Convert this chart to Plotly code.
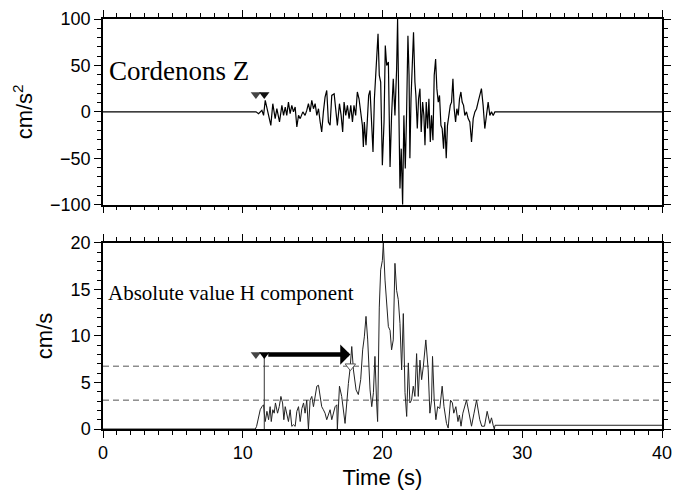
import plotly.graph_objects as go

# ---------------- data ----------------
# Vertical acceleration, Cordenons Z (cm/s^2)
acc_t = [0, 10.95, 11.13, 11.37, 11.49, 11.61, 11.85, 12.01, 12.15, 12.32, 12.44, 12.63, 12.80, 12.92,
         13.04, 13.15, 13.27, 13.39, 13.51, 13.63, 13.75, 13.87, 13.99, 14.11, 14.30, 14.46, 14.58,
         14.70, 14.82, 14.94, 15.06, 15.18, 15.30, 15.42, 15.54, 15.65, 15.77, 15.89, 16.01, 16.13,
         16.25, 16.37, 16.54, 16.68, 16.77, 16.92, 17.04, 17.15, 17.25, 17.37, 17.49, 17.61, 17.73,
         17.85, 17.96, 18.08, 18.20, 18.32, 18.44, 18.56, 18.63, 18.70, 18.82, 18.92, 19.01, 19.11,
         19.20, 19.32, 19.42, 19.51, 19.61, 19.68, 19.77, 19.87, 19.99, 20.11, 20.20, 20.30, 20.42,
         20.54, 20.65, 20.77, 20.89, 21.01, 21.08, 21.15, 21.25, 21.34, 21.44, 21.53, 21.63, 21.72,
         21.82, 21.90, 21.96, 22.04, 22.13, 22.22, 22.32, 22.39, 22.49, 22.58, 22.68, 22.77, 22.87,
         22.96, 23.04, 23.13, 23.23, 23.32, 23.42, 23.51, 23.61, 23.70, 23.80, 23.89, 23.99, 24.08,
         24.18, 24.27, 24.37, 24.46, 24.56, 24.65, 24.75, 24.85, 24.94, 25.04, 25.13, 25.23, 25.32,
         25.42, 25.51, 25.61, 25.70, 25.80, 25.89, 26.01, 26.13, 26.25, 26.37, 26.49, 26.61, 26.73,
         26.84, 26.96, 27.08, 27.20, 27.32, 27.44, 27.56, 27.68, 27.80, 27.92, 28.04, 28.2, 40]
acc_v = [0, 0, -1.9, 1.6, -3.8, 12.4, -3.8, -14.5, 8.8, -7.3, 3.4, -10.9, 7.0, -3.8,
         5.2, -3.8, 10.5, -1.9, 7.0, 0.0, 5.2, -16.3, -3.8, -7.3, 0.0, -3.8, 1.6,
         8.8, 0.0, 12.4, 3.4, 8.8, -3.8, 3.4, -10.9, -21.7, 0.0, 15.9, 23.1, -10.9,
         -14.5, 17.7, 19.5, -3.8, -14.5, 8.8, -3.8, -21.7, 10.5, -3.8, 7.0, -7.3, 7.0,
         -10.9, 7.0, -3.8, 21.4, 14.1, 0.0, -14.5, -37.8, -10.9, -36.0, -3.8, 17.7, 23.1,
         -3.8, -43.2, 14.1, 35.7, 57.0, 84.0, 39.3, 32.1, -57.5, -10.9, 71.5, 50.0, 53.6,
         -59.3, -3.8, 35.7, -3.8, 46.0, 100.0, 32.1, -82.6, -39.6, -100.0, -3.8, -61.0, -3.8,
         82.0, 40.0, -50.0, 14.0, 46.0, 85.8, 32.1, 17.7, -18.0, 14.1, 25.0, -21.7, 10.5,
         -3.8, -36.0, 10.5, -18.0, 14.1, -32.4, -3.8, -30.6, 39.3, 57.0, 25.0, 10.5, 17.7,
         -14.5, -18.0, -39.6, -10.9, -50.0, -14.5, -3.8, 7.0, 10.5, 35.7, 3.4, -10.9, 3.4,
         -3.8, 14.1, 21.4, 10.5, 7.0, -3.8, 0.0, -7.3, -10.9, -32.4, -7.3, 0.0, 3.4,
         10.5, 17.7, 25.0, 7.0, -18.0, -3.8, 10.5, -3.8, 0.0, -3.8, 0.0, 0, 0]

# Absolute value of the horizontal component (cm/s)
abs_t = [0, 10.9, 10.99, 11.13, 11.25, 11.37, 11.49, 11.54, 11.61, 11.73, 11.85, 11.96, 12.04, 12.15,
         12.25, 12.34, 12.49, 12.61, 12.73, 12.85, 12.94, 13.04, 13.15, 13.27, 13.39, 13.51, 13.63,
         13.75, 13.87, 13.99, 14.11, 14.23, 14.35, 14.46, 14.58, 14.70, 14.82, 14.94, 15.06, 15.18,
         15.30, 15.42, 15.54, 15.65, 15.77, 15.89, 16.01, 16.13, 16.25, 16.37, 16.49, 16.61, 16.73,
         16.77, 16.92, 17.08, 17.32, 17.44, 17.56, 17.68, 17.80, 17.92, 18.11, 18.27, 18.44, 18.58,
         18.70, 18.82, 18.94, 19.11, 19.23, 19.35, 19.46, 19.58, 19.65, 19.77, 19.87, 19.99, 20.06,
         20.18, 20.30, 20.42, 20.54, 20.65, 20.77, 20.89, 21.01, 21.13, 21.25, 21.37, 21.49, 21.61,
         21.73, 21.85, 21.96, 22.08, 22.20, 22.32, 22.44, 22.56, 22.68, 22.80, 22.92, 23.10, 23.27,
         23.39, 23.51, 23.58, 23.70, 23.82, 23.95, 24.10, 24.27, 24.40, 24.58, 24.70, 24.87, 25.00,
         25.10, 25.25, 25.40, 25.50, 25.62, 25.75, 26.01, 26.25, 26.37, 26.55, 26.73, 26.96, 27.10,
         27.30, 27.49, 27.68, 27.80, 27.92, 28.0, 28.05, 40]
abs_v = [0, 0, 0.28, 1.35, 2.07, 2.4, 2.6, 1.7, 0.8, 1.9, 1.0, 2.4, 0.8, 2.07,
         1.7, 2.8, 1.7, 2.4, 3.5, 2.8, 1.0, 2.4, 1.7, 0.8, 2.07, 0.28, 0.46,
         0.28, 1.9, 2.4, 0.8, 2.2, 2.8, 1.7, 3.1, 0.0, 3.1, 3.5, 2.4, 3.5,
         4.6, 4.7, 3.5, 2.4, 2.07, 1.7, 1.0, 1.5, 2.07, 1.0, 1.7, 2.4, 2.6,
         0.0, 4.6, 3.5, 0.6, 3.1, 4.9, 6.5, 8.86, 6.35, 4.2, 3.7, 5.3, 8.5,
         9.9, 12.1, 9.57, 4.2, 2.4, 3.9, 7.8, 2.8, 0.8, 13.1, 17.1, 18.1, 20.0,
         16.0, 13.1, 11.0, 10.6, 8.5, 9.57, 17.8, 14.9, 13.9, 11.35, 6.35, 12.4, 3.9,
         1.35, 7.1, 2.8, 3.1, 4.6, 3.5, 8.1, 3.5, 7.4, 5.3, 6.7, 9.57, 6.35,
         1.7, 3.1, 7.8, 3.1, 1.0, 2.4, 2.2, 4.6, 2.4, 0.6, 0.1, 3.1, 2.8,
         1.7, 2.4, 0.8, 1.5, 0.3, 1.7, 3.1, 1.0, 0.3, 1.7, 3.1, 1.0, 0.3,
         0.3, 1.9, 0.6, 1.2, 0.4, 0.0, 0.4, 0.4]

pick_times = [10.94, 11.54]          # onset picks (s)
pick_level_acc = 18.8                # marker height, top panel
pick_level_abs = 8.0                 # marker height, bottom panel
arrival_time = 17.7                  # threshold exceedance time (s)
thresholds = [3.1, 6.75]             # dashed threshold levels (cm/s)

x_ticks = [0, 10, 20, 30, 40]

# ---------------- figure ----------------
fig = go.Figure()

fig.add_trace(go.Scatter(x=acc_t, y=acc_v, mode="lines",
                         line=dict(color="black", width=1.2), xaxis="x", yaxis="y",
                         showlegend=False, hoverinfo="skip"))

fig.add_trace(go.Scatter(x=abs_t, y=abs_v, mode="lines",
                         line=dict(color="#222", width=1), xaxis="x2", yaxis="y2",
                         showlegend=False, hoverinfo="skip"))

# pick line in bottom panel
fig.add_trace(go.Scatter(x=[pick_times[1], pick_times[1]], y=[pick_level_abs, 0], mode="lines",
                         line=dict(color="#333", width=1), xaxis="x2", yaxis="y2",
                         showlegend=False, hoverinfo="skip"))

# pick markers
fig.add_trace(go.Scatter(x=pick_times, y=[pick_level_acc] * 2, mode="markers",
                         marker=dict(symbol="triangle-down", size=9, color=["#444", "#111"]),
                         xaxis="x", yaxis="y", showlegend=False, hoverinfo="skip"))
fig.add_trace(go.Scatter(x=pick_times, y=[pick_level_abs] * 2, mode="markers",
                         marker=dict(symbol="triangle-down", size=9, color=["#444", "#000"]),
                         xaxis="x2", yaxis="y2", showlegend=False, hoverinfo="skip"))
fig.add_trace(go.Scatter(x=[arrival_time], y=[thresholds[1]], mode="markers",
                         marker=dict(symbol="triangle-down", size=9, color="white",
                                     line=dict(color="#555", width=1)),
                         xaxis="x2", yaxis="y2", showlegend=False, hoverinfo="skip"))

for th in thresholds:
    fig.add_shape(type="line", xref="x2", yref="y2", x0=0, x1=40, y0=th, y1=th,
                  line=dict(color="#555", width=1, dash="6px,4px"), layer="below")

fig.add_annotation(x=arrival_time, y=pick_level_abs, ax=pick_times[1], ay=pick_level_abs,
                   xref="x2", yref="y2", axref="x2", ayref="y2", text=" ", showarrow=True,
                   arrowhead=1, arrowsize=0.75, arrowwidth=4.5, arrowcolor="black")

fig.add_annotation(x=0.3, y=44, xref="x", yref="y", text="Cordenons Z", showarrow=False,
                   xanchor="left", yanchor="middle",
                   font=dict(family="Liberation Serif, Times New Roman, serif", size=27, color="black"))
fig.add_annotation(x=0.2, y=14.6, xref="x2", yref="y2", text="Absolute value H component",
                   showarrow=False, xanchor="left", yanchor="middle",
                   font=dict(family="Liberation Serif, Times New Roman, serif", size=21, color="black"))

axis_common = dict(showline=True, linewidth=1.5, linecolor="black", mirror="ticks",
                   ticks="outside", ticklen=7, tickwidth=1.2, tickcolor="black",
                   showgrid=False, zeroline=False, automargin=False,
                   tickfont=dict(family="Liberation Sans, Arial, sans-serif", size=18, color="black"))

# the page body adds an 8 px offset, so the figure is 8 px smaller and margins are shifted
fig.update_layout(
    width=678, height=482,
    margin=dict(l=94.5, r=23.5, t=10.5, b=60.7, autoexpand=False),
    plot_bgcolor="white", paper_bgcolor="white",
    font=dict(family="Liberation Sans, Arial, sans-serif", size=18, color="black"),
    xaxis=dict(axis_common, domain=[0, 1], range=[0, 40], anchor="y", tickvals=x_ticks,
               showticklabels=False,
               minor=dict(dtick=1, ticks="outside", ticklen=4, tickcolor="black", tickwidth=1)),
    yaxis=dict(axis_common, domain=[0.547, 1], range=[-100, 100], anchor="x", dtick=50,
               title=dict(text="cm/s<sup>2</sup>", standoff=11),
               minor=dict(dtick=10, ticks="outside", ticklen=4, tickcolor="black", tickwidth=1)),
    xaxis2=dict(axis_common, domain=[0, 1], range=[0, 40], anchor="y2", tickvals=x_ticks,
                title=dict(text="Time (s)", standoff=8),
                minor=dict(dtick=1, ticks="outside", ticklen=4, tickcolor="black", tickwidth=1)),
    yaxis2=dict(axis_common, domain=[0, 0.454], range=[0, 20], anchor="x2", dtick=5,
                title=dict(text="cm/s", standoff=12),
                minor=dict(dtick=1, ticks="outside", ticklen=4, tickcolor="black", tickwidth=1)),
)

fig.write_html("out.html")
